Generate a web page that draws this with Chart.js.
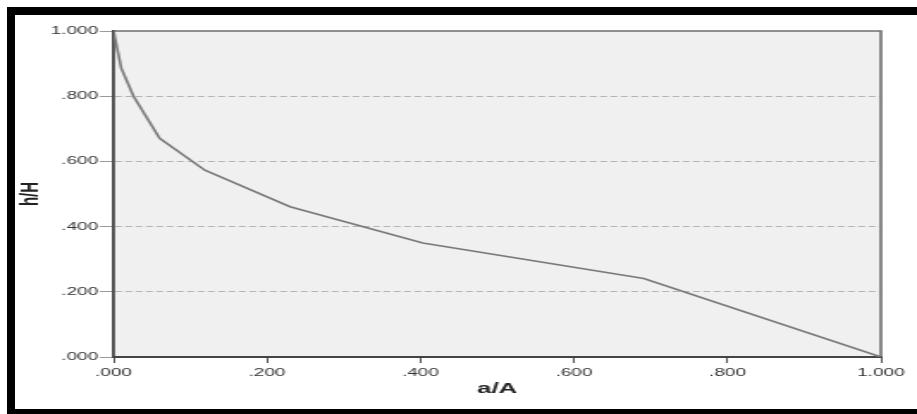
<!DOCTYPE html>
<html>
<head>
<meta charset="utf-8">
<script src="https://cdn.jsdelivr.net/npm/chart.js@4.4.1/dist/chart.umd.min.js"></script>
<style>
  body { margin: 0; background: #fff; width: 917px; height: 414px; overflow: hidden; position: relative; }
  /* the source image is stretched sideways, so the chart is drawn narrow and widened */
  #wrap { position: absolute; left: 0; top: 0; width: 533px; height: 414px; transform: scaleX(1.7205); transform-origin: 0 0; }
  .band { position: absolute; background: #000; }
</style>
</head>
<body>
<div id="wrap"><canvas id="myChart" width="533" height="414"></canvas></div>
<div class="band" style="left:7px; top:7px; width:910px; height:8px;"></div>
<div class="band" style="left:7px; top:7px; width:8px; height:407px;"></div>
<div class="band" style="left:7px; top:409px; width:910px; height:5px;"></div>
<script>
// a/A against h/H
var aA = [0, 0.010, 0.026, 0.060, 0.119, 0.230, 0.403, 0.691, 1.000];
var hH = [1.000, 0.886, 0.800, 0.671, 0.573, 0.461, 0.350, 0.241, 0.000];
var tickValues = [0, 0.2, 0.4, 0.6, 0.8, 1.0];

var points = aA.map(function (x, i) { return {x: x, y: hH[i]}; });

// SPSS style labels: ".200", "1.000"
function fmt(v) {
    var s = Number(v).toFixed(3);
    return s.charAt(0) === '0' ? s.slice(1) : s;
}

var plotFrame = {
    id: 'plotFrame',
    beforeDraw: function (chart) {
        var a = chart.chartArea, ctx = chart.ctx;
        ctx.save();
        ctx.fillStyle = '#f0f0f0';
        ctx.fillRect(a.left, a.top, a.right - a.left, a.bottom - a.top);
        ctx.restore();
    },
    afterDraw: function (chart) {
        var a = chart.chartArea, ctx = chart.ctx;
        ctx.save();
        ctx.strokeStyle = '#6e6e6e';
        ctx.lineWidth = 1.6;
        ctx.beginPath();
        ctx.moveTo(a.left, a.top);
        ctx.lineTo(a.right, a.top);
        ctx.lineTo(a.right, a.bottom);
        ctx.stroke();
        ctx.restore();
    }
};

Chart.defaults.font.family = "'Liberation Sans', Arial, sans-serif";
Chart.defaults.font.size = 11;
Chart.defaults.color = '#333';

var ctx = document.getElementById('myChart').getContext('2d');
var myChart = new Chart(ctx, {
    type: 'scatter',
    data: {
        datasets: [{
            data: points,
            showLine: true,
            borderColor: '#7a7a7a',
            borderWidth: 1.6,
            pointRadius: 0,
            tension: 0
        }]
    },
    options: {
        responsive: false,
        animation: false,
        devicePixelRatio: 1,
        layout: { padding: { top: 31, right: 21, left: 0, bottom: 0 } },
        plugins: { legend: { display: false }, tooltip: { enabled: false } },
        scales: {
            x: {
                type: 'linear',
                min: 0,
                max: 1,
                afterBuildTicks: function (scale) {
                    scale.ticks = tickValues.map(function (v) { return {value: v}; });
                },
                afterFit: function (scale) { scale.height = 57; },
                ticks: { callback: fmt, padding: 3, maxRotation: 0, color: '#333' },
                grid: { drawOnChartArea: false, drawTicks: true, tickLength: 6, tickColor: '#555', tickWidth: 1 },
                border: { color: '#444', width: 2 },
                title: {
                    display: true,
                    text: 'a/A',
                    color: '#222',
                    font: { size: 15, weight: 'bold' },
                    padding: { top: 0, bottom: 16 }
                }
            },
            y: {
                type: 'linear',
                min: 0,
                max: 1,
                afterBuildTicks: function (scale) {
                    scale.ticks = tickValues.map(function (v) { return {value: v}; });
                },
                afterFit: function (scale) { scale.width = 66; },
                ticks: { callback: fmt, padding: 1, color: '#333' },
                grid: {
                    color: function (c) {
                        var v = c.tick && c.tick.value;
                        return (v > 0.01 && v < 0.99) ? '#b4b4b4' : 'rgba(0,0,0,0)';
                    },
                    tickBorderDash: [],
                    tickColor: '#999',
                    tickLength: 8,
                    lineWidth: 1
                },
                // in v4 border.dash sets the dashes of the grid lines
                border: { color: '#444', width: 1.8, dash: [4, 2] },
                title: {
                    display: true,
                    text: 'h/H',
                    color: '#222',
                    font: { size: 15, weight: 'bold' },
                    padding: { top: 9, bottom: 0 }
                }
            }
        }
    },
    plugins: [plotFrame]
});
</script>
</body>
</html>
